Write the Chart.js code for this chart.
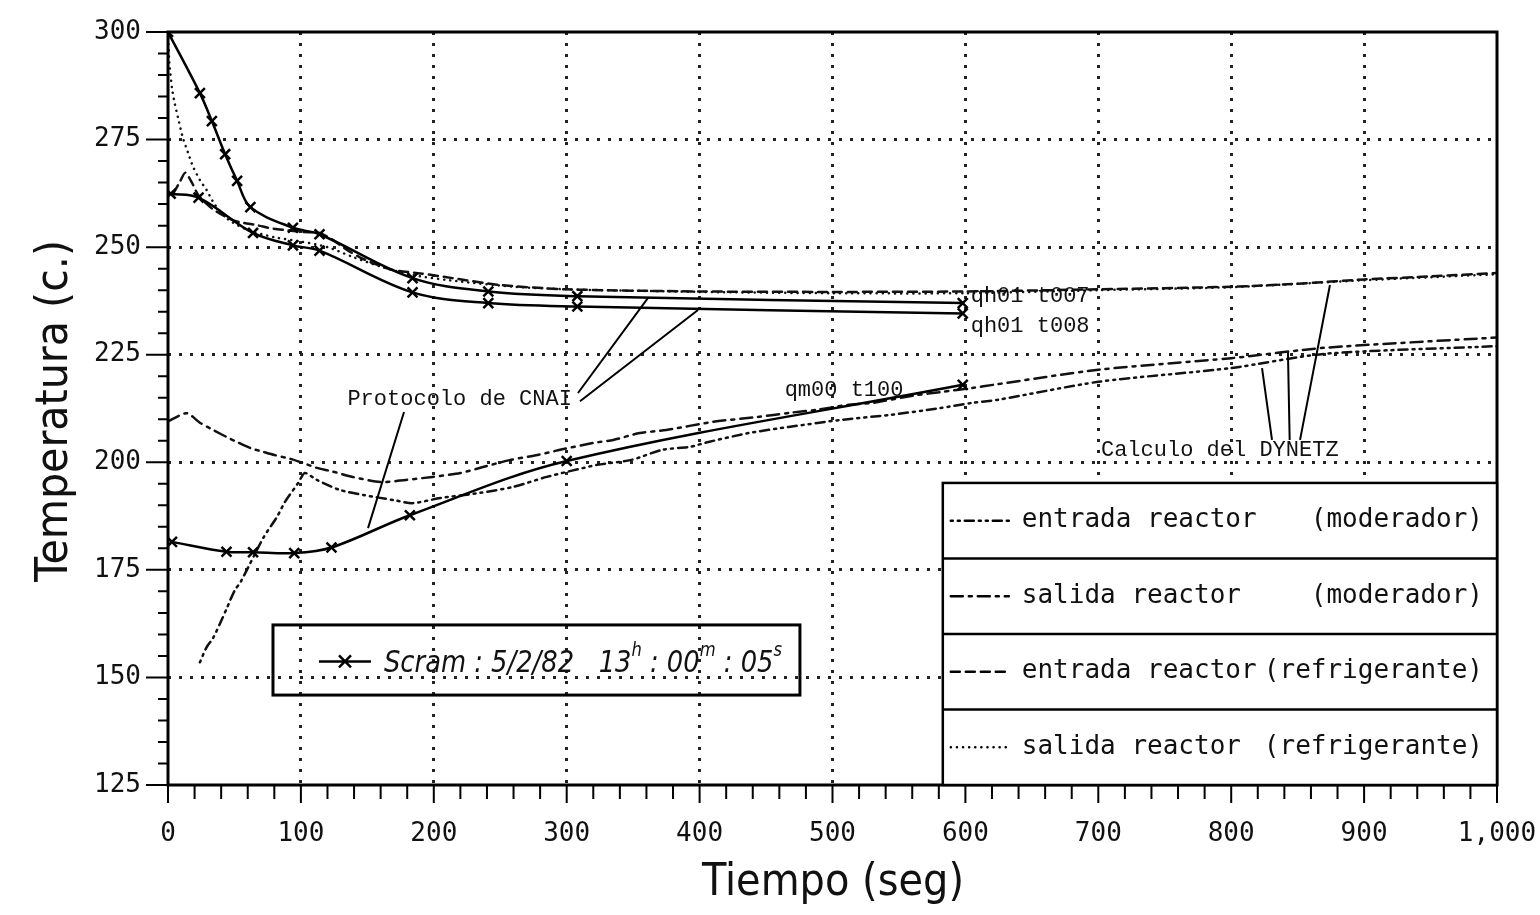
<!DOCTYPE html>
<html>
<head>
<meta charset="utf-8">
<title>Scram 5/2/82</title>
<script src="https://cdn.jsdelivr.net/npm/chart.js@4.4.1/dist/chart.umd.min.js"></script>
<style>
    html, body { margin: 0; padding: 0; background: #fff; }
    #wrap { width: 1540px; height: 915px; position: relative; }
</style>
</head>
<body>
<div id="wrap"><canvas id="scramChart"></canvas></div>
<script>
// Protocolo de CNAI (measured, x markers)
const t007Time = [0, 24, 33, 43, 52, 62, 94, 114, 184, 241, 308, 598];
const t007Temp = [300, 285.8, 279.3, 271.6, 265.4, 259.3, 254.5, 253.0, 242.8, 239.7, 238.6, 237.0];

const t008Time = [2, 23, 64, 94, 114, 184, 241, 308, 598];
const t008Temp = [262.4, 261.5, 253.3, 250.4, 249.2, 239.5, 237.0, 236.2, 234.6];

const t100Time = [3, 44, 64, 95, 123, 182, 300, 598];
const t100Temp = [181.5, 179.2, 179.1, 178.9, 180.2, 187.7, 200.3, 218.0];

// Calculo del DYNETZ
const modInTime = [24, 29, 34, 41, 44, 50, 55, 72, 82, 88, 98, 103, 112, 129, 147, 170, 184, 205, 235, 260, 285, 323, 348, 372, 393, 405, 437, 467, 505, 543, 581, 605, 624, 700, 800, 870, 1000];
const modInTemp = [153.5, 157.0, 159.2, 163.8, 165.9, 170.1, 172.4, 182.6, 187.3, 190.8, 195.2, 197.5, 195.9, 193.6, 192.4, 191.2, 190.5, 191.7, 192.9, 194.3, 196.6, 199.4, 200.5, 202.9, 203.6, 204.6, 206.8, 208.2, 209.8, 211.0, 212.6, 213.8, 214.5, 218.7, 221.9, 225.2, 227.0];

const modOutTime = [0, 14, 24, 34, 44, 52, 62, 72, 80, 92, 101, 112, 122, 139, 160, 179, 199, 220, 237, 257, 278, 295, 320, 335, 355, 375, 410, 443, 468, 488, 511, 530, 563, 581, 606, 621, 700, 800, 870, 1000];
const modOutTemp = [209.5, 211.4, 209.2, 207.5, 205.9, 204.7, 203.3, 202.4, 201.7, 200.8, 199.9, 198.7, 198.0, 196.6, 195.4, 195.9, 196.6, 197.5, 198.9, 200.5, 201.7, 202.9, 204.5, 205.2, 206.8, 207.5, 209.4, 210.5, 211.5, 212.2, 213.3, 213.8, 215.6, 216.3, 217.3, 218.0, 221.5, 224.2, 226.6, 229.0];

const coolInTime = [4, 9, 13, 18, 23, 33, 45, 54, 67, 77, 87, 102, 114, 124, 135, 144, 154, 169, 190, 214, 250, 300, 400, 500, 600, 700, 800, 850, 900, 950, 1000];
const coolInTemp = [262.5, 265.2, 267.3, 265.0, 262.0, 259.0, 256.8, 255.8, 255.1, 254.4, 254.0, 253.5, 253.3, 251.7, 249.3, 247.7, 246.3, 244.7, 243.9, 242.8, 241.2, 240.2, 239.7, 239.6, 239.7, 240.2, 240.8, 241.5, 242.5, 243.2, 244.0];

const coolOutTime = [0, 1, 3, 5, 8, 11, 15, 19, 24, 29, 35, 45, 60, 80, 100, 120, 140, 160, 184, 220, 260, 300, 400, 500, 600, 700, 800, 900, 1000];
const coolOutTemp = [300, 293, 287, 283.5, 279.5, 275.6, 272, 268.6, 265.6, 263.3, 260.0, 256.5, 254.0, 252.3, 251.3, 250.0, 247.6, 245.5, 243.5, 242.0, 240.8, 240.2, 239.6, 239.3, 239.3, 240.0, 240.7, 242.3, 243.7];

const legendLeft = ['entrada reactor', 'salida reactor', 'entrada reactor', 'salida reactor'];
const legendRight = ['(moderador)', '(moderador)', '(refrigerante)', '(refrigerante)'];

// line styles for the four DYNETZ curves, same order as the legend rows
const simDash = [[2, 5, 2, 5, 9, 5], [12, 6, 3, 6], [9, 6], [0.1, 6]];

const MONO = '"DejaVu Sans Mono", monospace';
const TYPE = '"Liberation Mono", "DejaVu Sans Mono", monospace';
const NARROW = '"DejaVu Sans Condensed", "Liberation Sans", sans-serif';

function toXY(times, vals) {
    return times.map((t, i) => ({ x: t, y: vals[i] }));
}

function measured(label, times, vals) {
    return {
        label: label,
        data: toXY(times, vals),
        borderColor: '#000',
        backgroundColor: '#000',
        borderWidth: 2.5,
        pointStyle: 'crossRot',
        pointRadius: 7,
        pointBorderWidth: 2.5,
        tension: 0.35
    };
}

function simulated(label, times, vals, dash) {
    return {
        label: label,
        data: toXY(times, vals),
        borderColor: '#111',
        borderWidth: 2.5,
        borderDash: dash,
        borderCapStyle: 'round',
        pointRadius: 0,
        tension: 0.25
    };
}

// text notes and pointer lines, in data units (seg, C)
const notes = [
    { text: 'qh01 t007', t: 604, v: 237.2 },
    { text: 'qh01 t008', t: 604, v: 230.3 },
    { text: 'qm00 t100', t: 464, v: 215.4 },
    { text: 'Protocolo de CNAI', t: 135, v: 213.2 },
    { text: 'Calculo del DYNETZ', t: 702, v: 201.5 }
];
const pointers = [
    [308.5, 216.1, 361.2, 238.2],
    [310.0, 214.2, 398.8, 235.4],
    [177.6, 211.7, 150.5, 184.7],
    [830.7, 205.2, 823.2, 221.9],
    [844.0, 205.2, 842.7, 225.6],
    [851.8, 205.2, 874.3, 241.2]
];

const framePlugin = {
    id: 'frame',
    afterDraw(chart) {
        const { ctx, chartArea: a, scales: { x, y } } = chart;
        const px = t => x.getPixelForValue(t);
        const py = v => y.getPixelForValue(v);
        ctx.save();
        ctx.strokeStyle = '#000';
        ctx.fillStyle = '#111';

        // box round the plot
        ctx.lineWidth = 3;
        ctx.strokeRect(a.left, a.top, a.right - a.left, a.bottom - a.top);

        // tick marks
        ctx.lineWidth = 2;
        ctx.beginPath();
        x.ticks.forEach(tk => {
            const p = px(tk.value);
            const len = tk.value % 100 === 0 ? 18 : 14;
            ctx.moveTo(p, a.bottom);
            ctx.lineTo(p, a.bottom + len);
        });
        y.ticks.forEach(tk => {
            const p = py(tk.value);
            const len = tk.value % 25 === 0 ? 22 : 10;
            ctx.moveTo(a.left, p);
            ctx.lineTo(a.left - len, p);
        });
        ctx.stroke();

        // axis titles, squeezed like the plotter font
        function squeezed(text, cx, cy, width, size, rot) {
            ctx.save();
            ctx.translate(cx, cy);
            if (rot) ctx.rotate(-Math.PI / 2);
            ctx.font = size + 'px ' + NARROW;
            const w = ctx.measureText(text).width;
            ctx.scale(width / w, 1);
            ctx.textAlign = 'center';
            ctx.textBaseline = 'middle';
            ctx.fillText(text, 0, 0);
            ctx.restore();
        }
        squeezed('Temperatura (c.)', 56, 411, 342, 44, true);
        squeezed('Tiempo (seg)', 833, 884, 262, 44, false);

        // notes and pointers
        ctx.font = '22px ' + TYPE;
        ctx.textAlign = 'left';
        ctx.textBaseline = 'alphabetic';
        notes.forEach(n => ctx.fillText(n.text, px(n.t), py(n.v)));
        ctx.lineWidth = 2;
        ctx.beginPath();
        pointers.forEach(p => {
            ctx.moveTo(px(p[0]), py(p[1]));
            ctx.lineTo(px(p[2]), py(p[3]));
        });
        ctx.stroke();

        // legend box on the right
        const lx = px(583), ly = py(195.2);
        const lw = a.right - lx, lh = a.bottom - ly;
        ctx.fillStyle = '#fff';
        ctx.fillRect(lx, ly, lw, lh);
        ctx.lineWidth = 2.5;
        ctx.strokeRect(lx, ly, lw, lh);
        const rowH = lh / legendLeft.length;
        ctx.font = '26px ' + MONO;
        legendLeft.forEach((txt, i) => {
            const cy = ly + rowH * (i + 0.5);
            if (i > 0) {
                ctx.setLineDash([]);
                ctx.lineWidth = 2.5;
                ctx.beginPath();
                ctx.moveTo(lx, ly + rowH * i);
                ctx.lineTo(a.right, ly + rowH * i);
                ctx.stroke();
            }
            ctx.lineWidth = 2.5;
            ctx.lineCap = 'round';
            ctx.setLineDash(simDash[i]);
            ctx.beginPath();
            ctx.moveTo(lx + 8, cy);
            ctx.lineTo(lx + 66, cy);
            ctx.stroke();
            ctx.setLineDash([]);
            ctx.lineCap = 'butt';
            ctx.fillStyle = '#111';
            ctx.textAlign = 'left';
            ctx.textBaseline = 'middle';
            ctx.fillText(txt, lx + 79, cy);
            ctx.textAlign = 'right';
            ctx.fillText(legendRight[i], a.right - 14, cy);
        });

        // scram box
        const sx = px(79), sy = py(162.2);
        const sw = px(475.5) - sx, sh = py(145.9) - sy;
        ctx.lineWidth = 3;
        ctx.strokeRect(sx, sy, sw, sh);
        const my = sy + sh * 0.52;
        ctx.lineWidth = 2.5;
        ctx.beginPath();
        ctx.moveTo(sx + 46, my);
        ctx.lineTo(sx + 98, my);
        ctx.moveTo(sx + 66, my - 6);
        ctx.lineTo(sx + 78, my + 6);
        ctx.moveTo(sx + 78, my - 6);
        ctx.lineTo(sx + 66, my + 6);
        ctx.stroke();

        const parts = [['Scram : 5/2/82   13', 0], ['h', 1], [' : 00', 0], ['m', 1], [' : 05', 0], ['s', 1]];
        const big = 'italic 30px ' + NARROW, small = 'italic 19px ' + NARROW;
        let total = 0;
        parts.forEach(p => { ctx.font = p[1] ? small : big; total += ctx.measureText(p[0]).width; });
        const startX = sx + 111, endX = sx + sw - 18;
        ctx.save();
        ctx.translate(startX, my + 11);
        ctx.scale((endX - startX) / total, 1);
        ctx.textAlign = 'left';
        ctx.textBaseline = 'alphabetic';
        ctx.fillStyle = '#111';
        let cx = 0;
        parts.forEach(p => {
            ctx.font = p[1] ? small : big;
            ctx.fillText(p[0], cx, p[1] ? -16 : 0);
            cx += ctx.measureText(p[0]).width;
        });
        ctx.restore();

        ctx.restore();
    }
};

function initScramChart() {
    const ctx = document.getElementById('scramChart');
    if (!ctx) return;

    new Chart(ctx, {
        type: 'line',
        data: {
            datasets: [
                measured('qh01 t007', t007Time, t007Temp),
                measured('qh01 t008', t008Time, t008Temp),
                measured('qm00 t100', t100Time, t100Temp),
                simulated('entrada reactor (moderador)', modInTime, modInTemp, simDash[0]),
                simulated('salida reactor (moderador)', modOutTime, modOutTemp, simDash[1]),
                simulated('entrada reactor (refrigerante)', coolInTime, coolInTemp, simDash[2]),
                simulated('salida reactor (refrigerante)', coolOutTime, coolOutTemp, simDash[3])
            ]
        },
        options: {
            responsive: true,
            maintainAspectRatio: false,
            animation: false,
            layout: { padding: { top: 32, right: 43, left: 0, bottom: 0 } },
            plugins: {
                legend: { display: false },
                tooltip: { enabled: false }
            },
            scales: {
                x: {
                    type: 'linear',
                    min: 0,
                    max: 1000,
                    afterFit(scale) {
                        scale.height = 130;
                        scale.paddingLeft = 0;
                        scale.paddingRight = 0;
                    },
                    border: { display: false, dash: [3, 8] },
                    grid: {
                        drawTicks: false,
                        lineWidth: 3,
                        color: c => (c.tick && c.tick.value % 100 === 0 && c.tick.value > 0 && c.tick.value < 1000) ? '#222' : 'rgba(0,0,0,0)'
                    },
                    ticks: {
                        stepSize: 20,
                        autoSkip: false,
                        maxRotation: 0,
                        padding: 34,
                        color: '#111',
                        font: { family: MONO, size: 26 },
                        callback: v => v % 100 === 0 ? v.toLocaleString('en-US') : ''
                    }
                },
                y: {
                    min: 125,
                    max: 300,
                    afterFit(scale) {
                        scale.width = 168;
                        scale.paddingTop = 0;
                        scale.paddingBottom = 0;
                    },
                    border: { display: false, dash: [3, 8] },
                    grid: {
                        drawTicks: false,
                        lineWidth: 3,
                        color: c => (c.tick && c.tick.value % 25 === 0 && c.tick.value > 125 && c.tick.value < 300) ? '#222' : 'rgba(0,0,0,0)'
                    },
                    ticks: {
                        stepSize: 5,
                        autoSkip: false,
                        padding: 27,
                        color: '#111',
                        font: { family: MONO, size: 26 },
                        callback: v => v % 25 === 0 ? String(v) : ''
                    }
                }
            }
        },
        plugins: [framePlugin]
    });
}

initScramChart();
</script>
</body>
</html>
